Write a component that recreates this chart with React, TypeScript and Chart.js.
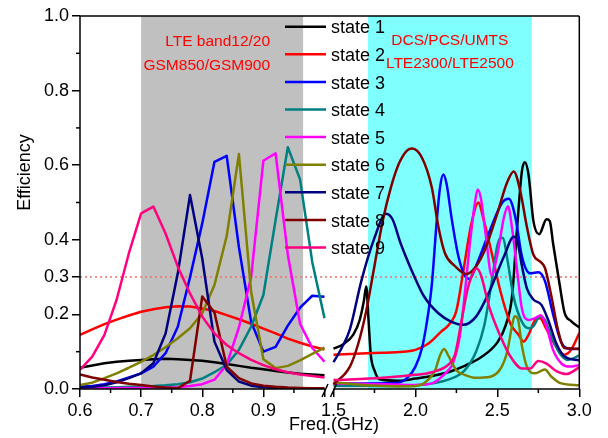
import React, { useEffect, useRef } from 'react';
import { Chart, registerables } from 'chart.js';

Chart.register(...registerables);

// ---------------- data ----------------
const STATE_LABELS = ['state 1', 'state 2', 'state 3', 'state 4', 'state 5', 'state 6', 'state 7', 'state 8', 'state 9'];
const STATE_COLORS = ['#000000', '#FF0000', '#0000FF', '#008080', '#FF00FF', '#808000', '#000080', '#800000', '#FF0080'];

// low band (0.6 - 1.0 GHz), shared frequency grid
const LEFT_FREQ = [0.6, 0.62, 0.64, 0.66, 0.68, 0.7, 0.72, 0.74, 0.76, 0.78, 0.8, 0.82, 0.84, 0.86, 0.88, 0.9, 0.92, 0.94, 0.96, 0.98, 1.0];
const LEFT_S1 = [0.057, 0.063, 0.069, 0.073, 0.076, 0.078, 0.08, 0.081, 0.08, 0.078, 0.076, 0.072, 0.067, 0.062, 0.057, 0.053, 0.048, 0.044, 0.041, 0.039, 0.037];
const LEFT_S2 = [0.145, 0.16, 0.174, 0.186, 0.197, 0.207, 0.214, 0.219, 0.222, 0.221, 0.216, 0.209, 0.198, 0.187, 0.175, 0.162, 0.149, 0.135, 0.124, 0.114, 0.106];
const LEFT_S3 = [0.006, 0.008, 0.013, 0.02, 0.031, 0.042, 0.06, 0.096, 0.167, 0.3, 0.444, 0.609, 0.625, 0.38, 0.18, 0.1, 0.113, 0.17, 0.218, 0.25, 0.247];
const LEFT_S4 = [0.002, 0.003, 0.004, 0.005, 0.006, 0.007, 0.008, 0.01, 0.013, 0.018, 0.028, 0.045, 0.065, 0.105, 0.167, 0.252, 0.453, 0.648, 0.562, 0.34, 0.19];
const LEFT_S5 = [0.002, 0.002, 0.002, 0.003, 0.003, 0.003, 0.004, 0.004, 0.005, 0.008, 0.013, 0.025, 0.065, 0.165, 0.3, 0.612, 0.632, 0.36, 0.175, 0.11, 0.073];
const LEFT_S6 = [0.011, 0.017, 0.029, 0.042, 0.057, 0.073, 0.091, 0.112, 0.136, 0.163, 0.203, 0.279, 0.41, 0.63, 0.26, 0.08, 0.056, 0.062, 0.077, 0.094, 0.111];
const LEFT_S7 = [0.004, 0.006, 0.01, 0.018, 0.029, 0.042, 0.069, 0.149, 0.31, 0.52, 0.35, 0.127, 0.051, 0.02, 0.009, 0.005, 0.003, 0.002, 0.002, 0.001, 0.001];
const LEFT_S8 = [0.039, 0.031, 0.025, 0.019, 0.014, 0.011, 0.007, 0.004, 0.002, 0.022, 0.248, 0.205, 0.06, 0.029, 0.015, 0.009, 0.006, 0.004, 0.003, 0.002, 0.002];
const LEFT_S9 = [0.051, 0.087, 0.145, 0.24, 0.364, 0.471, 0.489, 0.417, 0.328, 0.256, 0.194, 0.149, 0.118, 0.096, 0.078, 0.064, 0.053, 0.045, 0.039, 0.035, 0.031];

// high band (1.5 - 3.0 GHz), per state
const RIGHT_S1_FREQ = [1.5, 1.56, 1.62, 1.66, 1.685, 1.7, 1.713, 1.728, 1.75, 1.78, 1.9, 2.0, 2.1, 2.2, 2.3, 2.4, 2.5, 2.55, 2.59, 2.62, 2.65, 2.668, 2.69, 2.72, 2.755, 2.8, 2.82, 2.84, 2.88, 2.91, 2.95, 3.0];
const RIGHT_S1_EFF = [0.108, 0.12, 0.145, 0.185, 0.235, 0.275, 0.19, 0.09, 0.05, 0.026, 0.022, 0.028, 0.035, 0.045, 0.062, 0.085, 0.125, 0.17, 0.25, 0.43, 0.585, 0.608, 0.575, 0.45, 0.415, 0.455, 0.45, 0.39, 0.28, 0.205, 0.182, 0.165];
const RIGHT_S2_FREQ = [1.5, 1.6, 1.7, 1.8, 1.9, 2.0, 2.08, 2.16, 2.2, 2.25, 2.29, 2.34, 2.385, 2.41, 2.46, 2.52, 2.58, 2.63, 2.66, 2.69, 2.73, 2.76, 2.8, 2.85, 2.91, 2.95, 3.0];
const RIGHT_S2_EFF = [0.092, 0.094, 0.096, 0.097, 0.099, 0.105, 0.122, 0.155, 0.17, 0.21, 0.31, 0.44, 0.5, 0.465, 0.375, 0.26, 0.175, 0.145, 0.127, 0.145, 0.185, 0.19, 0.16, 0.12, 0.092, 0.105, 0.15];
const RIGHT_S3_FREQ = [1.5, 1.7, 1.88, 1.95, 2.0, 2.04, 2.07, 2.1, 2.13, 2.15, 2.17, 2.19, 2.22, 2.26, 2.3, 2.33, 2.37, 2.45, 2.53, 2.57, 2.61, 2.65, 2.7, 2.75, 2.79, 2.84, 2.89, 2.94, 3.0];
const RIGHT_S3_EFF = [0.015, 0.015, 0.016, 0.03, 0.06, 0.11, 0.18, 0.28, 0.45, 0.54, 0.575, 0.55, 0.46, 0.36, 0.305, 0.295, 0.33, 0.42, 0.5, 0.51, 0.46, 0.355, 0.31, 0.313, 0.29, 0.2, 0.125, 0.108, 0.107];
const RIGHT_S4_FREQ = [1.5, 1.8, 2.0, 2.2, 2.3, 2.37, 2.42, 2.47, 2.5, 2.52, 2.535, 2.56, 2.6, 2.65, 2.69, 2.72, 2.76, 2.79, 2.83, 2.88, 2.93, 3.0];
const RIGHT_S4_EFF = [0.008, 0.008, 0.01, 0.025, 0.05, 0.1, 0.17, 0.3, 0.385, 0.405, 0.405, 0.35, 0.245, 0.18, 0.163, 0.168, 0.195, 0.185, 0.14, 0.096, 0.078, 0.09];
const RIGHT_S5_FREQ = [1.5, 1.8, 2.0, 2.1, 2.15, 2.2, 2.23, 2.27, 2.3, 2.33, 2.36, 2.38, 2.4, 2.43, 2.465, 2.5, 2.54, 2.565, 2.59, 2.62, 2.65, 2.69, 2.73, 2.765, 2.8, 2.84, 2.89, 2.94, 3.0];
const RIGHT_S5_EFF = [0.015, 0.013, 0.011, 0.015, 0.029, 0.05, 0.07, 0.14, 0.25, 0.38, 0.49, 0.535, 0.51, 0.41, 0.305, 0.36, 0.46, 0.49, 0.43, 0.32, 0.215, 0.185, 0.19, 0.198, 0.167, 0.105, 0.069, 0.06, 0.064];
const RIGHT_S6_FREQ = [1.5, 1.7, 1.9, 2.0, 2.05, 2.12, 2.15, 2.175, 2.2, 2.25, 2.3, 2.37, 2.45, 2.52, 2.56, 2.59, 2.605, 2.625, 2.65, 2.68, 2.73, 2.79, 2.83, 2.89, 3.0];
const RIGHT_S6_EFF = [0.018, 0.01, 0.007, 0.008, 0.015, 0.05, 0.09, 0.107, 0.09, 0.05, 0.038, 0.03, 0.032, 0.055, 0.1, 0.17, 0.195, 0.188, 0.115, 0.06, 0.042, 0.052, 0.033, 0.015, 0.01];
const RIGHT_S7_FREQ = [1.5, 1.55, 1.6, 1.67, 1.75, 1.82, 1.86, 1.91, 1.975, 2.05, 2.14, 2.22, 2.29, 2.37, 2.45, 2.54, 2.6, 2.62, 2.65, 2.68, 2.72, 2.77, 2.81, 2.86, 2.91, 3.0];
const RIGHT_S7_EFF = [0.072, 0.11, 0.16, 0.29, 0.405, 0.47, 0.455, 0.39, 0.32, 0.25, 0.203, 0.18, 0.172, 0.194, 0.26, 0.355, 0.408, 0.4, 0.33, 0.27, 0.24, 0.225, 0.185, 0.122, 0.087, 0.077];
const RIGHT_S8_FREQ = [1.5, 1.6, 1.65, 1.7, 1.75, 1.8, 1.85, 1.9, 1.95, 1.98, 2.04, 2.1, 2.14, 2.18, 2.24, 2.31, 2.35, 2.415, 2.5, 2.557, 2.6, 2.64, 2.68, 2.72, 2.76, 2.79, 2.83, 2.87, 2.91, 3.0];
const RIGHT_S8_EFF = [0.012, 0.06, 0.12, 0.21, 0.33, 0.45, 0.54, 0.605, 0.64, 0.645, 0.62, 0.54, 0.435, 0.364, 0.33, 0.308, 0.318, 0.364, 0.471, 0.551, 0.583, 0.53, 0.435, 0.36, 0.342, 0.325, 0.248, 0.158, 0.11, 0.108];
const RIGHT_S9_FREQ = [1.5, 1.8, 2.0, 2.1, 2.2, 2.24, 2.28, 2.32, 2.35, 2.375, 2.4, 2.45, 2.52, 2.58, 2.65, 2.7, 2.75, 2.8, 2.86, 2.92, 3.0];
const RIGHT_S9_EFF = [0.024, 0.03, 0.038, 0.045, 0.065, 0.09, 0.18, 0.27, 0.31, 0.323, 0.305, 0.22, 0.14, 0.087, 0.055, 0.055, 0.075, 0.068, 0.048, 0.04, 0.058];

// axes, bands, annotations
const X_TICKS = [0.6, 0.7, 0.8, 0.9, 1.0, 1.5, 2.0, 2.5, 3.0];
const X_UNLABELED = [1.0];
const X_MINOR = [0.65, 0.75, 0.85, 0.95, 1.75, 2.25, 2.75];
const Y_TICKS = [0, 0.2, 0.3, 0.4, 0.6, 0.8, 1.0];
const Y_MINOR = [0.1, 0.5, 0.7, 0.9];
const LOW_SEGMENT = [0.6, 1.0];
const HIGH_SEGMENT = [1.5, 3.0];
const BAND_LOW = [0.7, 0.965];
const BAND_HIGH = [1.71, 2.71];
const BAND_LOW_TEXT = ['LTE band12/20', 'GSM850/GSM900'];
const BAND_HIGH_TEXT = ['DCS/PCS/UMTS', 'LTE2300/LTE2500'];
const REF_LEVEL = 0.3;
const X_TITLE = 'Freq.(GHz)';
const Y_TITLE = 'Efficiency';

const LEFT_EFF = [LEFT_S1, LEFT_S2, LEFT_S3, LEFT_S4, LEFT_S5, LEFT_S6, LEFT_S7, LEFT_S8, LEFT_S9];
const RIGHT_FREQ = [RIGHT_S1_FREQ, RIGHT_S2_FREQ, RIGHT_S3_FREQ, RIGHT_S4_FREQ, RIGHT_S5_FREQ, RIGHT_S6_FREQ, RIGHT_S7_FREQ, RIGHT_S8_FREQ, RIGHT_S9_FREQ];
const RIGHT_EFF = [RIGHT_S1_EFF, RIGHT_S2_EFF, RIGHT_S3_EFF, RIGHT_S4_EFF, RIGHT_S5_EFF, RIGHT_S6_EFF, RIGHT_S7_EFF, RIGHT_S8_EFF, RIGHT_S9_EFF];

// ---------------- broken axis mapping ----------------
const LEFT_SPAN = 244.5;
const GAP_SPAN = 9;
const RIGHT_SPAN = 245.8;
const TOTAL = LEFT_SPAN + GAP_SPAN + RIGHT_SPAN;

function toAxis(f: number): number {
  if (f <= LOW_SEGMENT[1] + 1e-9) {
    return ((f - LOW_SEGMENT[0]) / (LOW_SEGMENT[1] - LOW_SEGMENT[0])) * LEFT_SPAN;
  }
  return LEFT_SPAN + GAP_SPAN + ((f - HIGH_SEGMENT[0]) / (HIGH_SEGMENT[1] - HIGH_SEGMENT[0])) * RIGHT_SPAN;
}
function fromAxis(u: number): number {
  if (u <= LEFT_SPAN + 1e-6) return LOW_SEGMENT[0] + (u / LEFT_SPAN) * (LOW_SEGMENT[1] - LOW_SEGMENT[0]);
  return HIGH_SEGMENT[0] + ((u - LEFT_SPAN - GAP_SPAN) / RIGHT_SPAN) * (HIGH_SEGMENT[1] - HIGH_SEGMENT[0]);
}

const FONT = "'Liberation Sans', Arial, Helvetica, sans-serif";

const decorPlugin = {
  id: 'decor',
  beforeDatasetsDraw(chart: any) {
    const { ctx, chartArea: a, scales } = chart;
    const x = scales.x;
    ctx.save();
    const band = (r: number[], color: string) => {
      const x0 = x.getPixelForValue(toAxis(r[0]));
      const x1 = x.getPixelForValue(toAxis(r[1]));
      ctx.fillStyle = color;
      ctx.fillRect(x0, a.top, x1 - x0, a.bottom - a.top);
    };
    band(BAND_LOW, '#C0C0C0');
    band(BAND_HIGH, '#80FFFF');
    ctx.restore();
  },
  afterDatasetsDraw(chart: any) {
    const { ctx, chartArea: a, scales } = chart;
    const x = scales.x;
    const y = scales.y;
    ctx.save();
    ctx.strokeStyle = '#000';
    ctx.lineWidth = 1.5;
    ctx.lineCap = 'butt';
    const line = (x0: number, y0: number, x1: number, y1: number) => {
      ctx.beginPath();
      ctx.moveTo(x0, y0);
      ctx.lineTo(x1, y1);
      ctx.stroke();
    };
    // frame
    line(a.left, a.top, a.right, a.top);
    line(a.right, a.top, a.right, a.bottom);
    line(a.left, a.top, a.left, a.bottom);
    const xBreakL = x.getPixelForValue(toAxis(LOW_SEGMENT[1]));
    const xBreakR = x.getPixelForValue(toAxis(HIGH_SEGMENT[0]));
    line(a.left, a.bottom, xBreakL, a.bottom);
    line(xBreakR, a.bottom, a.right, a.bottom);
    // break marks
    line(xBreakL - 2.5, a.bottom + 8, xBreakL + 3.5, a.bottom - 5);
    line(xBreakR - 3, a.bottom + 8, xBreakR + 3, a.bottom - 5);
    // minor ticks
    X_MINOR.forEach((f) => {
      const px = x.getPixelForValue(toAxis(f));
      line(px, a.bottom, px, a.bottom + 4);
    });
    Y_MINOR.forEach((v) => {
      const py = y.getPixelForValue(v);
      line(a.left - 4, py, a.left, py);
    });

    // band annotations
    ctx.fillStyle = '#FF0000';
    ctx.font = `15.5px ${FONT}`;
    ctx.textBaseline = 'alphabetic';
    ctx.textAlign = 'right';
    const lowRight = x.getPixelForValue(toAxis(BAND_LOW[1])) - 33;
    ctx.fillText(BAND_LOW_TEXT[0], lowRight, 46);
    ctx.fillText(BAND_LOW_TEXT[1], lowRight, 70);
    ctx.textAlign = 'center';
    const highMid = (x.getPixelForValue(toAxis(BAND_HIGH[0])) + x.getPixelForValue(toAxis(BAND_HIGH[1]))) / 2;
    ctx.fillText(BAND_HIGH_TEXT[0], highMid, 45);
    ctx.fillText(BAND_HIGH_TEXT[1], highMid, 68);

    // legend
    ctx.font = `18px ${FONT}`;
    ctx.textAlign = 'left';
    ctx.fillStyle = '#000';
    ctx.lineWidth = 2.5;
    STATE_LABELS.forEach((lab, i) => {
      const cy = 26.7 + i * 27.6;
      ctx.strokeStyle = STATE_COLORS[i];
      line(285, cy, 326, cy);
      ctx.fillText(lab, 331, cy + 6.6);
    });

    // axis titles
    ctx.fillStyle = '#000';
    ctx.font = `18px ${FONT}`;
    ctx.textAlign = 'center';
    ctx.fillText(X_TITLE, 334, 430);
    ctx.save();
    ctx.translate(30, 172.5);
    ctx.rotate(-Math.PI / 2);
    ctx.fillText(Y_TITLE, 0, 0);
    ctx.restore();
    ctx.restore();
  },
};

function buildDatasets() {
  const ds: any[] = [];
  ds.push({
    label: 'ref',
    data: [
      { x: toAxis(LOW_SEGMENT[0]), y: REF_LEVEL },
      { x: toAxis(HIGH_SEGMENT[1]), y: REF_LEVEL },
    ],
    borderColor: '#F07070',
    borderWidth: 1.5,
    borderDash: [2, 3],
    pointRadius: 0,
    order: 100,
  });
  STATE_LABELS.forEach((label, i) => {
    ds.push({
      label,
      data: LEFT_FREQ.map((f, k) => ({ x: toAxis(f), y: LEFT_EFF[i][k] })),
      borderColor: STATE_COLORS[i],
      borderWidth: 2.5,
      pointRadius: 0,
      tension: 0,
      borderJoinStyle: 'round',
      order: 9 - i,
    });
    ds.push({
      label,
      data: RIGHT_FREQ[i].map((f, k) => ({ x: toAxis(f), y: RIGHT_EFF[i][k] })),
      borderColor: STATE_COLORS[i],
      borderWidth: 2.5,
      pointRadius: 0,
      cubicInterpolationMode: 'monotone',
      borderJoinStyle: 'round',
      order: 9 - i,
    });
  });
  return ds;
}

export default function App() {
  const ref = useRef<HTMLCanvasElement>(null);
  useEffect(() => {
    const canvas = ref.current;
    if (!canvas) return;
    const chart = new Chart(canvas, {
      type: 'line',
      data: { datasets: buildDatasets() },
      plugins: [decorPlugin],
      options: {
        responsive: false,
        animation: false,
        events: [],
        layout: { padding: { top: 16, right: 608 - 579.3, bottom: 0, left: 0 } },
        plugins: { legend: { display: false }, tooltip: { enabled: false } },
        scales: {
          x: {
            type: 'linear',
            min: 0,
            max: TOTAL,
            afterBuildTicks: (s: any) => {
              s.ticks = X_TICKS.map((f) => ({ value: toAxis(f) }));
            },
            afterFit: (s: any) => {
              s.height = 438 - 389;
            },
            grid: { drawOnChartArea: false, drawTicks: true, tickLength: 8, color: '#000', lineWidth: 1.5 },
            border: { display: false },
            ticks: {
              autoSkip: false,
              maxRotation: 0,
              padding: 3,
              color: '#000',
              font: { family: FONT, size: 18 },
              callback: (v: any) => {
                const f = fromAxis(Number(v));
                if (X_UNLABELED.some((u) => Math.abs(u - f) < 1e-6)) return '';
                return f.toFixed(1);
              },
            },
          },
          y: {
            type: 'linear',
            min: 0,
            max: 1,
            afterBuildTicks: (s: any) => {
              s.ticks = Y_TICKS.map((v) => ({ value: v }));
            },
            afterFit: (s: any) => {
              s.width = 80;
            },
            grid: { drawOnChartArea: false, drawTicks: true, tickLength: 8, color: '#000', lineWidth: 1.5 },
            border: { display: false },
            ticks: {
              padding: 3,
              color: '#000',
              font: { family: FONT, size: 18 },
              callback: (v: any) => Number(v).toFixed(1),
            },
          },
        },
      },
    } as any);
    return () => chart.destroy();
  }, []);
  return (
    <div style={{ position: 'absolute', left: 0, top: 0, width: 608, height: 438, background: '#fff' }}>
      <canvas ref={ref} width={608} height={438} style={{ display: 'block', width: 608, height: 438 }} />
    </div>
  );
}
